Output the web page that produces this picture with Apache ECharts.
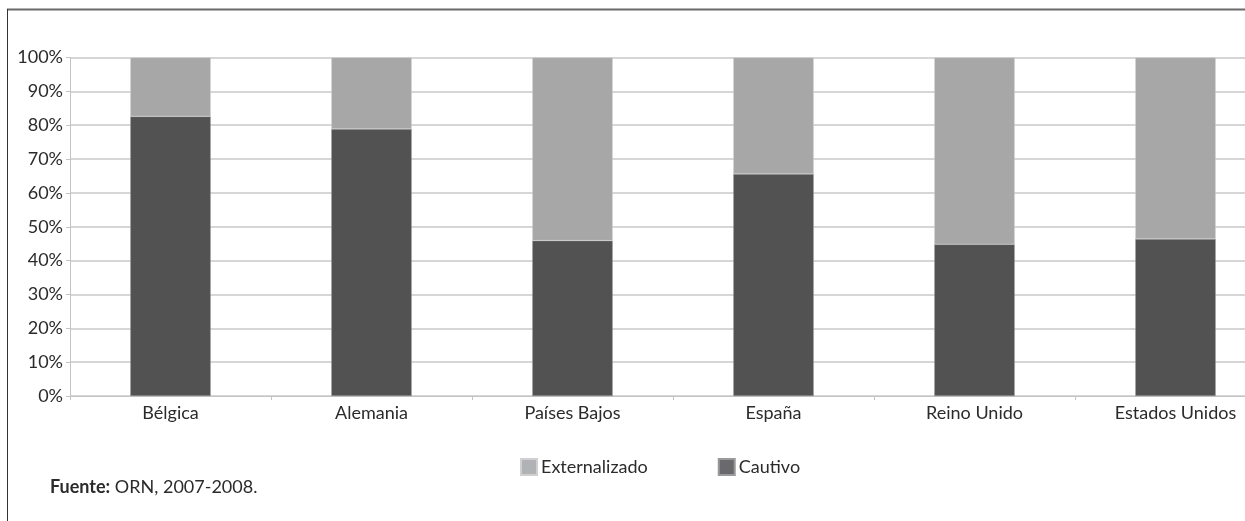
<!DOCTYPE html>
<html>
<head>
<meta charset="utf-8">
<style>
  html, body { margin: 0; padding: 0; background: #fff; overflow: hidden; }
  /* the plot runs past the right edge of the page, as in the printed figure */
  #chart { width: 1280px; height: 521px; }
</style>
<script src="https://cdn.jsdelivr.net/npm/echarts@6/dist/echarts.min.js"></script>
</head>
<body>
<div id="chart"></div>
<script>
// Countries along the x axis
const countries = ['Bélgica', 'Alemania', 'Países Bajos', 'España', 'Reino Unido', 'Estados Unidos'];
// Share (%) of each model per country
const cautivo = [82.6, 78.9, 45.9, 65.6, 44.8, 46.4];
const externalizado = [17.4, 21.1, 54.1, 34.4, 55.2, 53.6];
const seriesNames = ['Externalizado', 'Cautivo'];
const sourceLabel = 'Fuente:';
const sourceText = 'ORN, 2007-2008.';

const FONT = 'Lato, "Open Sans", sans-serif';
const TEXT = '#2b2b2b';

const chart = echarts.init(document.getElementById('chart'), null, { renderer: 'canvas' });

chart.setOption({
  animation: false,
  backgroundColor: '#fff',
  textStyle: { fontFamily: FONT },
  graphic: [
    // outer frame (top and left edges)
    { type: 'line', shape: { x1: 7, y1: 9.5, x2: 1280, y2: 9.5 }, style: { stroke: '#6a6a6a', lineWidth: 2 } },
    { type: 'line', shape: { x1: 7.5, y1: 9, x2: 7.5, y2: 521 }, style: { stroke: '#333', lineWidth: 1 } },
    {
      type: 'text', left: 50, top: 478,
      style: {
        text: '{b|' + sourceLabel + '} ' + sourceText,
        fill: TEXT, font: '18px ' + FONT,
        rich: { b: { fontWeight: 'bold', fontSize: 18, fontFamily: FONT, fill: TEXT } }
      }
    }
  ],
  legend: {
    left: 520, top: 458, padding: 0,
    itemWidth: 16, itemHeight: 16, itemGap: 70,
    icon: 'rect',
    textStyle: { fontSize: 18, color: TEXT, fontFamily: FONT, padding: [0, 0, 0, -1] },
    data: [
      { name: seriesNames[0], itemStyle: { color: '#b0b2b5' } },
      { name: seriesNames[1], itemStyle: { color: '#6a6a6e' } }
    ]
  },
  grid: { left: 70, top: 57.5, width: 1206, height: 338.5, containLabel: false },
  xAxis: {
    type: 'category',
    data: countries,
    axisLine: { lineStyle: { color: '#c4c4c4', width: 1 } },
    axisTick: { show: true, length: 4, lineStyle: { color: '#c4c4c4' } },
    axisLabel: { fontSize: 18, color: TEXT, margin: 8, fontFamily: FONT }
  },
  yAxis: {
    type: 'value', min: 0, max: 100, interval: 10,
    axisLine: { show: true, lineStyle: { color: '#c4c4c4' } },
    axisTick: { show: true, length: 4, lineStyle: { color: '#c4c4c4' } },
    splitLine: { lineStyle: { color: '#c8c8c8', width: 1.5 } },
    axisLabel: { fontSize: 18, color: TEXT, margin: 7, fontFamily: FONT, formatter: '{value}%' }
  },
  series: [
    {
      name: seriesNames[1], type: 'bar', stack: 'total', data: cautivo,
      barWidth: '40%',
      itemStyle: { color: '#525252', borderColor: '#9a9a9a', borderWidth: 0.5 }
    },
    {
      name: seriesNames[0], type: 'bar', stack: 'total', data: externalizado,
      barWidth: '40%',
      itemStyle: { color: '#a7a7a7', borderColor: '#d0d0d0', borderWidth: 0.5 }
    }
  ]
});
</script>
</body>
</html>
